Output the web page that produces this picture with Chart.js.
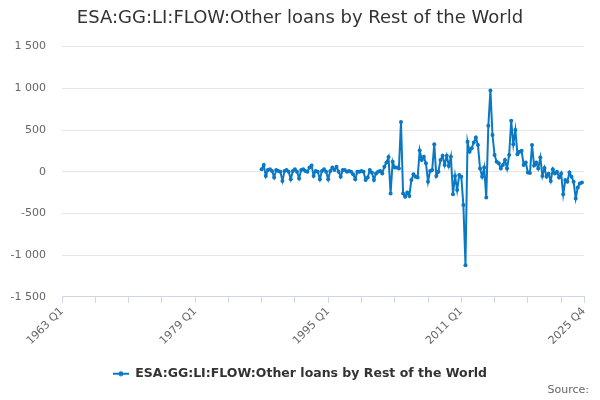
<!DOCTYPE html>
<html>
<head>
<meta charset="utf-8">
<script src="https://cdn.jsdelivr.net/npm/chart.js@4.4.1/dist/chart.umd.min.js"></script>
<style>
  body { margin: 0; background: #fff; }
  #wrap { width: 600px; height: 400px; position: relative; }
  #source { position: absolute; right: 11px; top: 383px; font: 11px "DejaVu Sans", sans-serif; color: #666; }
</style>
</head>
<body>
<div id="wrap">
  <canvas id="flowChart"></canvas>
  <div id="source">Source:</div>
</div>
<script>
// quarterly categories on the axis: 1963 Q1 .. 2025 Q4
const firstYear = 1963;
const lastYear = 2025;
const tickLabels = ['1963 Q1', '1979 Q1', '1995 Q1', '2011 Q1', '2025 Q4'];

// series starts in 1987 Q1
const seriesStart = '1987 Q1';
const flowValues = [
  30, 80, -50, 20, 30, 10, -70, 20, 10, 0,
  -110, 10, 20, 0, -90, 10, 30, 0, -80, 20,
  30, 10, 0, 50, 75, -50, 10, 0, -90, 10,
  30, 0, -90, 10, 50, 20, 60, 0, -60, 20,
  20, 0, 10, 0, -30, -90, 0, 0, 10, 0,
  -100, -70, 20, -10, -100, -20, 0, 10, -20, 60,
  110, 175, -260, 120, 50, 50, 40, 595, -260, -300,
  -250, -290, -100, -30, -60, -70, 255, 140, 180, 100,
  -120, 10, 20, 330, -50, 0, 140, 190, 80, 190,
  70, 180, -270, -50, -220, -40, -60, -400, -1120, 360,
  240, 280, 350, 410, 320, 40, -60, 50, -310, 550,
  975, 440, 200, 120, 100, 40, 80, 140, 40, 200,
  610, 330, 500, 210, 240, 250, 80, 110, -10, -15,
  320, 75, 110, 40, 170, -50, 45, -60, -25, -110,
  30, -20, 0, -70, -20, -270, -100, -120, -10, -60,
  -120, -320, -190, -140, -130
];

const quarters = [];
for (let y = firstYear; y <= lastYear; y++) {
  for (let q = 1; q <= 4; q++) quarters.push(y + ' Q' + q);
}
const startIdx = quarters.indexOf(seriesStart);
const seriesData = quarters.map((_, i) => {
  const v = flowValues[i - startIdx];
  return v === undefined ? null : v;
});

const lineBlue = '#0a78c3';
const fontFam = '"DejaVu Sans", sans-serif';

// legend symbol: short line with a dot
const legendIcon = document.createElement('canvas');
legendIcon.width = 16; legendIcon.height = 8;
const ic = legendIcon.getContext('2d');
ic.strokeStyle = lineBlue; ic.lineWidth = 2;
ic.beginPath(); ic.moveTo(0, 4); ic.lineTo(16, 4); ic.stroke();
ic.fillStyle = lineBlue;
ic.beginPath(); ic.arc(8, 4, 2.5, 0, Math.PI * 2); ic.fill();

function spaced(n) {
  const s = Math.abs(n).toString().replace(/\B(?=(\d{3})+(?!\d))/g, ' ');
  return (n < 0 ? '-' : '') + s;
}

const lastIdx = quarters.length - 1;
const ctx = document.getElementById('flowChart').getContext('2d');
new Chart(ctx, {
  type: 'line',
  data: {
    labels: quarters,
    datasets: [{
      label: 'ESA:GG:LI:FLOW:Other loans by Rest of the World',
      data: seriesData,
      borderColor: lineBlue,
      backgroundColor: lineBlue,
      borderWidth: 2,
      pointRadius: 2,
      pointHoverRadius: 3,
      pointBorderWidth: 0,
      tension: 0,
      fill: false
    }]
  },
  options: {
    responsive: true,
    maintainAspectRatio: false,
    animation: false,
    layout: { padding: { left: 0, right: 0, top: 0, bottom: 10 } },
    plugins: {
      title: {
        display: true,
        text: 'ESA:GG:LI:FLOW:Other loans by Rest of the World',
        color: '#333',
        font: { family: fontFam, size: 18, weight: 'normal' },
        padding: { top: 8, bottom: 17 }
      },
      legend: {
        position: 'bottom',
        labels: {
          usePointStyle: true,
          pointStyle: legendIcon,
          pointStyleWidth: 16,
          color: '#333',
          font: { family: fontFam, size: 12.5, weight: 'bold' },
          padding: 10
        }
      },
      tooltip: { enabled: false }
    },
    scales: {
      x: {
        afterFit: s => { s.height += 8; },
        ticks: {
          autoSkip: false,
          minRotation: 45,
          maxRotation: 45,
          color: '#666',
          font: { family: fontFam, size: 11 },
          padding: 2,
          callback: function (val, i) {
            const lab = quarters[i];
            return tickLabels.includes(lab) ? lab : '';
          }
        },
        grid: {
          drawOnChartArea: false,
          tickLength: 6,
          color: c => (c.index % 16 === 0 || c.index === lastIdx) ? '#ccd6eb' : 'rgba(0,0,0,0)'
        },
        border: { display: true, color: '#ccd6eb' }
      },
      y: {
        min: -1500,
        max: 1500,
        afterFit: s => { s.width = 62; },
        ticks: {
          stepSize: 500,
          color: '#666',
          padding: 16,
          font: { family: fontFam, size: 11 },
          callback: v => spaced(v)
        },
        grid: { color: '#e6e6e6', drawTicks: false },
        border: { display: false }
      },
      // empty strip on the right so the plot ends where the reference's does
      spacer: {
        type: 'linear',
        position: 'right',
        display: true,
        afterFit: s => { s.width = 16; },
        ticks: { display: false },
        grid: { display: false, drawTicks: false },
        border: { display: false }
      }
    }
  }
});
</script>
</body>
</html>
